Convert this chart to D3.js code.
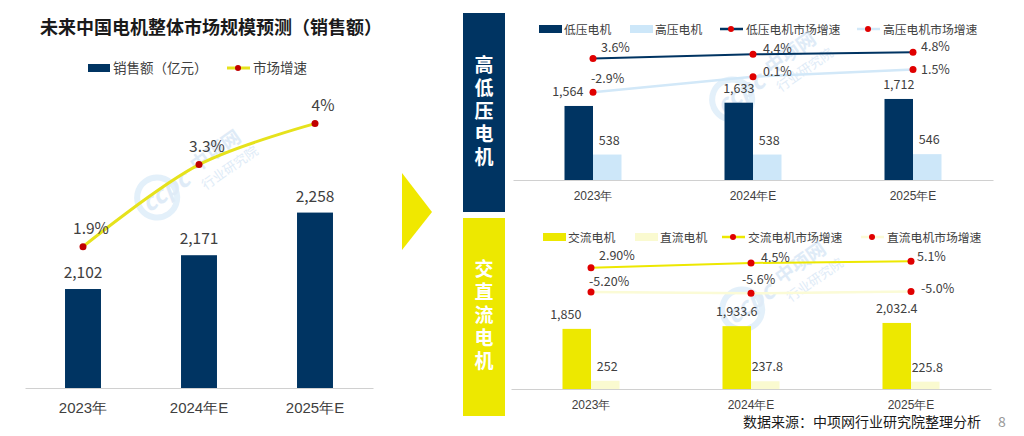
<!DOCTYPE html>
<html>
<head>
<meta charset="utf-8">
<script src="https://cdn.jsdelivr.net/npm/d3@7"></script>
<style>
	body { margin: 0; background: #fff; }
	svg { display: block; font-family: "Noto Sans CJK SC", "Noto Sans", sans-serif; }
</style>
</head>
<body>
<svg width="1024" height="436"></svg>
<script>
'use strict';

// categories
var years = ['2023年', '2024年E', '2025年E'];

// left chart: total market
var totalSales = [2102, 2171, 2258];
var totalGrowth = [1.9, 3.3, 4];

// top right: low / high voltage
var lowVoltage = [1564, 1633, 1712];
var highVoltage = [538, 538, 546];
var lowGrowth = [3.6, 4.4, 4.8];
var highGrowth = [-2.9, 0.1, 1.5];

// bottom right: AC / DC
var acMotor = [1850, 1933.6, 2032.4];
var dcMotor = [252, 237.8, 225.8];
var acGrowth = [2.90, 4.5, 5.1];
var dcGrowth = [-5.20, -5.6, -5.0];
var acGrowthText = ['2.90%', '4.5%', '5.1%'];
var dcGrowthText = ['-5.20%', '-5.6%', '-5.0%'];

var NAVY = '#003462', LIGHTBLUE = '#cde7f9', YELLOW = '#ede800', PALEYELLOW = '#fafad0';
var RED = '#e00000', DARKRED = '#c00000', TEXT = '#404040';

var svg = d3.select('svg');
var fmt = d3.format(',');
var pct = function (v) { return v + '%'; };

/**
 * Faint site watermark
 */
function watermark(cx, cy) {
	var g = svg.append('g')
		.attr('transform', 'translate(' + cx + ',' + cy + ') rotate(-35)')
		.attr('opacity', 0.55)
		.attr('fill', '#c6dcf2');
	g.append('circle').attr('cx', -34).attr('cy', 0).attr('r', 20)
		.attr('fill', 'none').attr('stroke', '#cde4f6').attr('stroke-width', 6);
	g.append('text').attr('x', -50).attr('y', 8)
		.attr('font-size', 24).attr('font-style', 'italic').attr('font-weight', 'bold')
		.text('ccpc');
	g.append('text').attr('x', 12).attr('y', 2)
		.attr('font-size', 19).attr('font-weight', 'bold').text('中项网');
	g.append('text').attr('x', 10).attr('y', 22)
		.attr('font-size', 13).text('行业研究院');
}

/* ---------------- left chart ---------------- */
(function () {
	var x = d3.scaleBand().domain(years).range([25, 373]);
	var y = d3.scaleLinear().domain([1900, 2400]).range([388, 143]);
	var y2 = d3.scaleLinear().domain([0, 5]).range([358, 65]);
	var bw = x.bandwidth() * 0.31;
	var cx = function (i) { return x(years[i]) + x.bandwidth() / 2; };

	svg.append('text')
		.attr('x', 211).attr('y', 34)
		.attr('text-anchor', 'middle')
		.attr('font-size', 18).attr('font-weight', 'bold').attr('fill', '#1a1a1a')
		.text('未来中国电机整体市场规模预测（销售额）');

	// legend
	var lg = svg.append('g').attr('font-size', 13.5).attr('fill', TEXT);
	lg.append('rect').attr('x', 88).attr('y', 64).attr('width', 22).attr('height', 8).attr('fill', NAVY);
	lg.append('text').attr('x', 113).attr('y', 73).text('销售额（亿元）');
	lg.append('line').attr('x1', 227).attr('x2', 250).attr('y1', 68).attr('y2', 68)
		.attr('stroke', '#e6e21c').attr('stroke-width', 3);
	lg.append('circle').attr('cx', 238).attr('cy', 68).attr('r', 3).attr('fill', DARKRED);
	lg.append('text').attr('x', 253).attr('y', 73).text('市场增速');

	watermark(185, 178);

	var axis = d3.axisBottom(x).tickSize(0).tickPadding(14);
	var ag = svg.append('g').attr('transform', 'translate(0,388)').call(axis);
	ag.select('.domain').attr('stroke', '#d0d0d0');
	ag.selectAll('text').attr('font-size', 15).attr('fill', TEXT).attr('font-family', null);

	svg.append('g').selectAll('rect').data(totalSales).enter().append('rect')
		.attr('x', function (d, i) { return cx(i) - bw / 2; })
		.attr('y', function (d) { return y(d); })
		.attr('width', bw)
		.attr('height', function (d) { return 388 - y(d); })
		.attr('fill', NAVY);

	svg.append('g').selectAll('text').data(totalSales).enter().append('text')
		.attr('x', function (d, i) { return cx(i); })
		.attr('y', function (d) { return y(d) - 11; })
		.attr('text-anchor', 'middle').attr('font-size', 15.5).attr('fill', TEXT)
		.text(fmt);

	var line = d3.line()
		.x(function (d, i) { return cx(i); })
		.y(function (d) { return y2(d); })
		.curve(d3.curveCatmullRom);
	svg.append('path').datum(totalGrowth)
		.attr('d', line).attr('fill', 'none')
		.attr('stroke', '#e6e21c').attr('stroke-width', 3);
	svg.append('g').selectAll('circle').data(totalGrowth).enter().append('circle')
		.attr('cx', function (d, i) { return cx(i); })
		.attr('cy', function (d) { return y2(d); })
		.attr('r', 3.5).attr('fill', DARKRED);
	svg.append('g').selectAll('text').data(totalGrowth).enter().append('text')
		.attr('x', function (d, i) { return cx(i) + 8; })
		.attr('y', function (d) { return y2(d) - 13; })
		.attr('text-anchor', 'middle').attr('font-size', 15.5).attr('fill', TEXT)
		.text(pct);
})();

/* ---------------- arrow ---------------- */
svg.append('path')
	.attr('d', d3.line()([[402, 173], [432, 212], [402, 250]]) + 'Z')
	.attr('fill', '#f0e800');

/* ---------------- side labels ---------------- */
function sideBox(y0, y1, color, label) {
	svg.append('rect').attr('x', 463).attr('y', y0).attr('width', 42).attr('height', y1 - y0).attr('fill', color);
	// one vertical text run instead of stacked single characters
	svg.append('text')
		.attr('x', 484)
		.attr('y', (y0 + y1) / 2)
		.attr('writing-mode', 'tb')
		.attr('text-anchor', 'middle')
		.attr('letter-spacing', 4)
		.attr('font-size', 19).attr('font-weight', 'bold').attr('fill', '#fff')
		.text(label);
}
sideBox(13, 212, NAVY, '高低压电机');
sideBox(218, 416, YELLOW, '交直流电机');

/**
 * Right-hand combo chart: two bars and two growth lines per year
 */
function comboChart(cfg) {
	var x = d3.scaleBand().domain(years).range(cfg.xRange);
	var y = d3.scaleLinear().domain(cfg.yDomain).range([cfg.base, cfg.yTop]);
	var y2 = d3.scaleLinear().domain(cfg.y2Domain).range(cfg.y2Range);
	var bw = 28.5;
	var cx = function (i) { return x(years[i]) + x.bandwidth() / 2; };

	// legend
	var lg = svg.append('g').attr('font-size', 11.8).attr('fill', TEXT);
	var ly = cfg.legendY;
	lg.append('rect').attr('x', cfg.legendX[0]).attr('y', ly - 4).attr('width', 23).attr('height', 8).attr('fill', cfg.colors[0]);
	lg.append('text').attr('x', cfg.legendX[0] + 25).attr('y', ly + 4.5).text(cfg.names[0]);
	lg.append('rect').attr('x', cfg.legendX[1]).attr('y', ly - 4).attr('width', 23).attr('height', 8).attr('fill', cfg.colors[1]);
	lg.append('text').attr('x', cfg.legendX[1] + 25).attr('y', ly + 4.5).text(cfg.names[1]);
	[2, 3].forEach(function (k) {
		var lx = cfg.legendX[k];
		lg.append('line').attr('x1', lx).attr('x2', lx + 23).attr('y1', ly).attr('y2', ly)
			.attr('stroke', cfg.lineColors[k - 2]).attr('stroke-width', 2.5);
		lg.append('circle').attr('cx', lx + 11).attr('cy', ly).attr('r', 3).attr('fill', RED);
		lg.append('text').attr('x', lx + 26).attr('y', ly + 4.5).text(cfg.names[k]);
	});

	watermark(cfg.wm[0], cfg.wm[1]);

	var ag = svg.append('g').attr('transform', 'translate(0,' + cfg.base + ')')
		.call(d3.axisBottom(x).tickSize(0).tickPadding(11));
	ag.select('.domain').attr('stroke', '#d0d0d0');
	ag.selectAll('text').attr('font-size', 12).attr('fill', TEXT).attr('font-family', null);

	// bars
	[cfg.bars[0], cfg.bars[1]].forEach(function (series, k) {
		svg.append('g').selectAll('rect').data(series).enter().append('rect')
			.attr('x', function (d, i) { return cx(i) - (k === 0 ? bw : 0); })
			.attr('y', function (d) { return y(d); })
			.attr('width', bw)
			.attr('height', function (d) { return cfg.base - y(d); })
			.attr('fill', cfg.colors[k]);
		svg.append('g').selectAll('text').data(series).enter().append('text')
			.attr('x', function (d, i) {
				var c = cx(i) + (k === 0 ? -bw / 2 : bw / 2 + 2);
				return (k === 0 && i === 0) ? c - 11 : c;
			})
			.attr('y', function (d) { return y(d) - 10; })
			.attr('text-anchor', 'middle').attr('font-size', 12.5).attr('fill', TEXT)
			.text(fmt);
	});

	// growth lines
	cfg.lines.forEach(function (series, k) {
		var line = d3.line()
			.x(function (d, i) { return cx(i); })
			.y(function (d) { return y2(d); });
		svg.append('path').datum(series)
			.attr('d', line).attr('fill', 'none')
			.attr('stroke', cfg.lineColors[k]).attr('stroke-width', k === 0 ? 2 : 2.5);
		svg.append('g').selectAll('circle').data(series).enter().append('circle')
			.attr('cx', function (d, i) { return cx(i); })
			.attr('cy', function (d) { return y2(d); })
			.attr('r', 3.5).attr('fill', RED);
		var off = cfg.labelOffsets[k];
		svg.append('g').selectAll('text').data(series).enter().append('text')
			.attr('x', function (d, i) { return cx(i) + off[i][0]; })
			.attr('y', function (d, i) { return y2(d) + off[i][1] + 4.5; })
			.attr('font-size', 12.5).attr('fill', TEXT)
			.text(function (d, i) { return cfg.lineText[k][i]; });
	});
}

comboChart({
	xRange: [513, 993],
	base: 180,
	yDomain: [0, 3000], yTop: 38,
	y2Domain: [-20, 10], y2Range: [181.2, 25.2],
	bars: [lowVoltage, highVoltage],
	lines: [lowGrowth, highGrowth],
	lineText: [lowGrowth.map(pct), highGrowth.map(pct)],
	colors: [NAVY, LIGHTBLUE],
	lineColors: [NAVY, '#d2e8f8'],
	names: ['低压电机', '高压电机', '低压电机市场增速', '高压电机市场增速'],
	legendX: [539, 630, 720, 857],
	legendY: 29,
	wm: [760, 80],
	labelOffsets: [
		[[8, -11], [10, -6], [8, -6]],
		[[-2, -14], [10, -5], [8, 0]]
	]
});

comboChart({
	xRange: [511, 991],
	base: 389,
	yDomain: [0, 4000], yTop: 259,
	y2Domain: [-30, 20], y2Range: [366.5, 216.5],
	bars: [acMotor, dcMotor],
	lines: [acGrowth, dcGrowth],
	lineText: [acGrowthText, dcGrowthText],
	colors: [YELLOW, PALEYELLOW],
	lineColors: [YELLOW, '#fbfbd6'],
	names: ['交流电机', '直流电机', '交流电机市场增速', '直流电机市场增速'],
	legendX: [543, 635, 722, 861],
	legendY: 237,
	wm: [770, 290],
	labelOffsets: [
		[[8, -12], [10, -6], [6, -5]],
		[[-2, -11], [-9, -14], [10, -3]]
	]
});

/* ---------------- footer ---------------- */
svg.append('text').attr('x', 743).attr('y', 427)
	.attr('font-size', 14).attr('fill', '#1a1a1a')
	.text('数据来源：中项网行业研究院整理分析');
svg.append('text').attr('x', 998).attr('y', 427)
	.attr('font-size', 14).attr('fill', '#999')
	.text('8');
</script>
</body>
</html>
